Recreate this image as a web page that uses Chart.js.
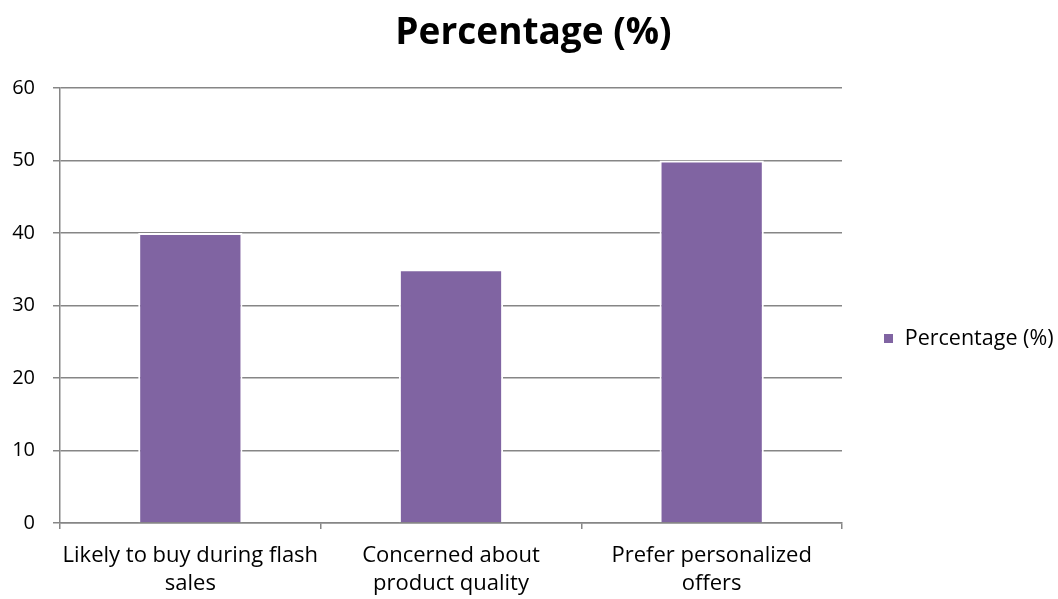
<!DOCTYPE html>
<html><head><meta charset="utf-8">
<script src="https://cdn.jsdelivr.net/npm/chart.js@4.4.1/dist/chart.umd.min.js"></script>
<style>html,body{margin:0;padding:0;background:#fff}#wrap{width:1058px;height:599px}</style>
</head><body><div id="wrap"><canvas id="c" width="1058" height="599"></canvas></div>
<script>
const categories = [["Likely to buy during flash","sales"],["Concerned about","product quality"],["Prefer personalized","offers"]];
const seriesName = "Percentage (%)";
const values = [40, 35, 50];
const yMin = 0, yMax = 60, yStep = 10;

const FONT = "'Open Sans', sans-serif";
const GRID = '#868686';

new Chart(document.getElementById('c'), {
  type: 'bar',
  data: {
    labels: categories,
    datasets: [{
      label: seriesName,
      data: values,
      backgroundColor: '#8064A2',
      borderColor: '#ffffff',
      borderWidth: 2,
      borderSkipped: 'bottom',
      categoryPercentage: 1,
      barPercentage: 0.4
    }]
  },
  options: {
    responsive: false,
    animation: false,
    devicePixelRatio: 1,
    layout: { padding: { left: 9, right: 0, top: 0, bottom: 0 } },
    plugins: {
      title: {
        display: true, text: seriesName, color: '#000',
        font: { family: FONT, size: 37, weight: 'bold' },
        padding: { top: 11, bottom: 32.6 }
      },
      legend: {
        display: true, position: 'right', align: 'start', maxWidth: 216,
        title: { display: true, text: '', padding: { top: 0, bottom: 274.75 }, font: { size: 10 } },
        labels: { boxWidth: 11, boxHeight: 11, color: '#000', padding: 41, font: { family: FONT, size: 21.5 } }
      },
      tooltip: { enabled: false }
    },
    scales: {
      x: {
        grid: { display: true, drawOnChartArea: false, drawTicks: true, tickLength: 6, color: GRID, lineWidth: 1.5 },
        border: { display: true, color: GRID, width: 1.5 },
        ticks: { color: '#000', font: { family: FONT, size: 22, lineHeight: 1.27 }, padding: 13, maxRotation: 0, autoSkip: false },
        afterFit: s => { s.height = 76; }
      },
      y: {
        min: yMin, max: yMax,
        ticks: { stepSize: yStep, color: '#000', font: { family: FONT, size: 20 }, padding: 18 },
        grid: { color: GRID, lineWidth: 1.5, tickLength: 7 },
        border: { display: true, color: GRID, width: 1.5 },
        afterFit: s => { s.width = 51; }
      }
    }
  }
});
</script></body></html>
